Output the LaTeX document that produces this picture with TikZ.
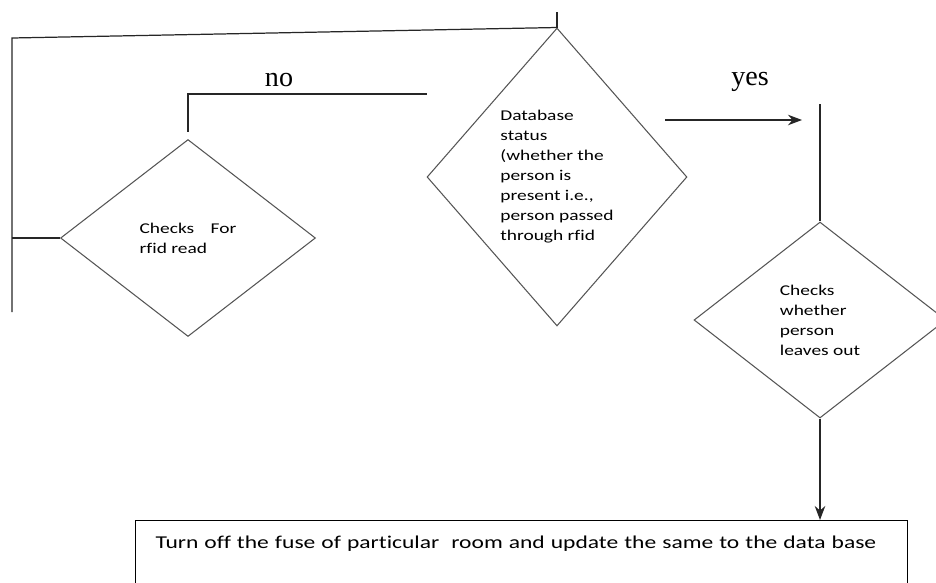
\documentclass[tikz,border=0pt]{standalone}
\usepackage{fontspec}
\setmainfont{Carlito}
\newfontfamily\flowfont{Carlito}[FakeStretch=1.3,Ligatures=NoCommon]
\newfontfamily\labelfont{Liberation Serif}
\usetikzlibrary{arrows.meta,positioning,shapes.geometric}
\definecolor{edge}{RGB}{85,85,85}

\begin{document}
\begin{tikzpicture}[
  x=0.02cm, y=-0.02cm,
  decision/.style={diamond, draw=edge, line width=0.6pt, inner sep=0pt,
    align=left, font=\flowfont\fontsize{8.5}{11.4}\selectfont},
  block/.style={rectangle, draw=black, line width=0.6pt, anchor=north west,
    text width=14.64cm, inner xsep=0.4cm, inner ysep=0.2cm, align=left,
    text height=0.36cm, text depth=1.0cm, font=\flowfont\fontsize{10.3}{11.4}\selectfont},
  conn/.style={line width=0.7pt, black!85},
  arr/.style={conn, -{Stealth[length=8pt,width=6pt]}},
  lbl/.style={font=\labelfont\fontsize{16}{18}\selectfont},
]
\clip (0,0) rectangle (936,582);

\node[decision, minimum width=5.1cm, minimum height=3.94cm] (rfid) at (188,238)
  {Checks\hspace{1.1em}For\\rfid read};
\node[decision, minimum width=5.2cm, minimum height=5.96cm] (dbase) at (557,177)
  {Database\\status\\(whether the\\person is\\present i.e.,\\person passed\\through rfid};
\node[decision, minimum width=5.04cm, minimum height=3.92cm] (leaves) at (820,320)
  {Checks\\whether\\person\\leaves out};
\node[block] (fuse) at (135,520)
  {Turn off the fuse of particular\ \ room and update the same to the data base};
\node[lbl] (nolbl) at (279,80) {no};
\node[lbl] (yeslbl) at (750,82) {yes};

% loose ends
\coordinate (top) at (557,12);
\coordinate (topleft) at (12,38);
\coordinate (botleft) at (12,312);
\coordinate (noend) at (427,94);
\coordinate (yesstart) at (665,120);
\coordinate (yesend) at (802,120);
\coordinate (yestop) at (820,104);

\draw[conn] (top) -- (dbase.north);
\draw[conn] (dbase.north) -- (topleft) -- (botleft);
\draw[conn] (rfid.west) -- (rfid.west -| topleft);
\draw[conn] ([yshift=0.14cm]rfid.north) -- (rfid.north |- noend) -- (noend);
\draw[arr] (yesstart) -- (yesend);
\draw[conn] (yestop) -- (leaves.north);
\draw[arr] (leaves.south) -- (leaves.south |- fuse.north);
\end{tikzpicture}
\end{document}
